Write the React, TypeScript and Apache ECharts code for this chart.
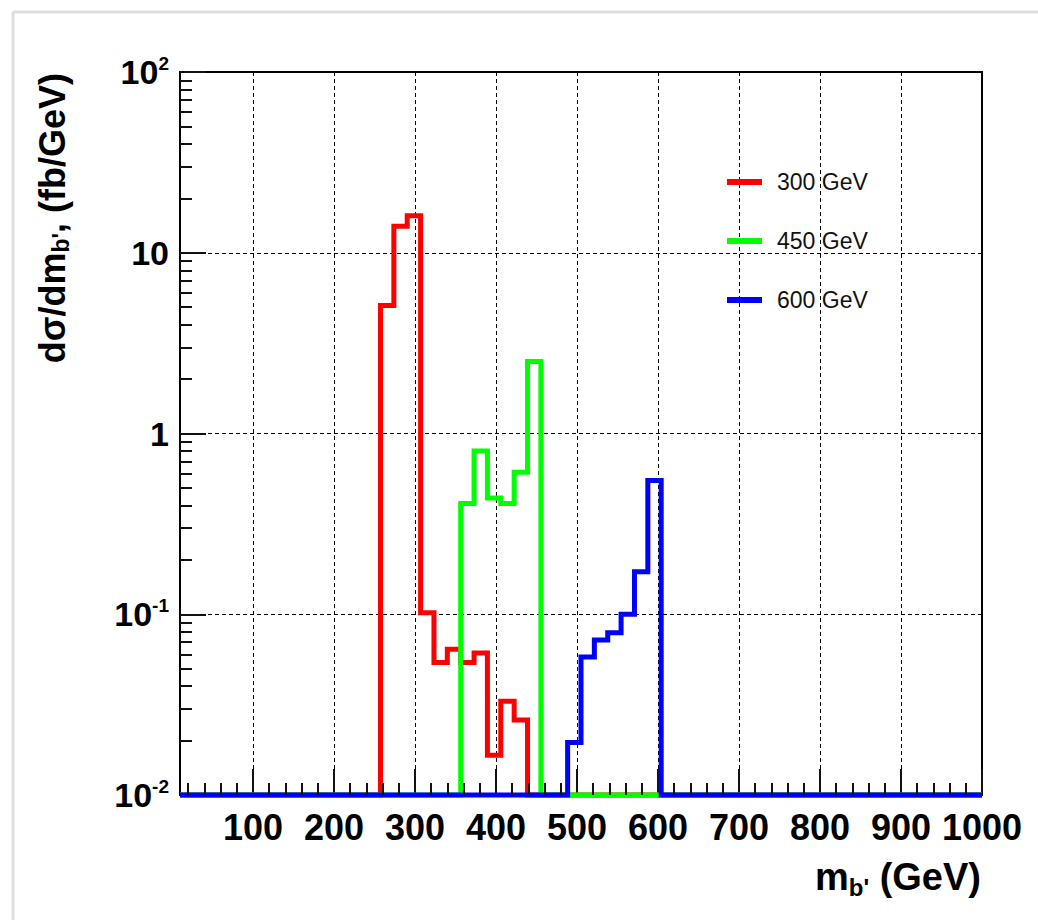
import React, { useEffect, useRef } from 'react';
import * as echarts from 'echarts';

// Histogram binning: 60 equal bins spanning the mass axis 10–1000 GeV
const BIN_LOW = 10;
const BIN_WIDTH = 16.5;
const N_BINS = 60;
// Empty bins are drawn on the floor of the log axis
const EMPTY_LEVEL = 0.01;

const seriesNames = ['300 GeV', '450 GeV', '600 GeV'];
const seriesColors = ['#ff0000', '#00ff00', '#0000ff'];

// dσ/dm (fb/GeV) per bin, starting at the given bin index
const red300FirstBin = 15;
const red300Values = [5.1, 14.0, 16.0, 0.102, 0.054, 0.064, 0.054, 0.061, 0.0166, 0.033, 0.026];
const green450FirstBin = 21;
const green450Values = [0.41, 0.8, 0.44, 0.41, 0.61, 2.5];
const blue600FirstBin = 29;
const blue600Values = [0.0195, 0.058, 0.072, 0.079, 0.1, 0.172, 0.55];

const xTickValues = [100, 200, 300, 400, 500, 600, 700, 800, 900, 1000];
const yTickValues = [0.01, 0.1, 1, 10, 100];
const yTickTexts = ['{n|10}{sup|-2}', '{n|10}{sup|-1}', '{n|1}', '{n|10}', '{n|10}{sup|2}'];

const FONT = '"Liberation Sans", Arial, Helvetica, sans-serif';

// minor ticks every 20 GeV between the labelled ones
const xMinorTickValues: number[] = [];
for (let v = 20; v < 1000; v += 20) if (v % 100 !== 0) xMinorTickValues.push(v);

// minor ticks at 2..9 within each decade
const yMinorTickValues: number[] = [];
[0.01, 0.1, 1, 10].forEach((d) => {
  for (let m = 2; m <= 9; m++) yMinorTickValues.push(Number((d * m).toPrecision(3)));
});

function histogramOutline(firstBin: number, values: number[]): number[][] {
  const pts: number[][] = [];
  for (let k = 0; k < N_BINS; k++) {
    const i = k - firstBin;
    const v = i >= 0 && i < values.length ? values[i] : EMPTY_LEVEL;
    const lo = BIN_LOW + k * BIN_WIDTH;
    pts.push([lo, v], [lo + BIN_WIDTH, v]);
  }
  return pts;
}

const tickLine = { color: '#111', width: 2 };

export default function App() {
  const ref = useRef<HTMLDivElement>(null);

  useEffect(() => {
    if (!ref.current) return;
    const chart = echarts.init(ref.current, undefined, { renderer: 'svg' });

    const outlines = [
      histogramOutline(red300FirstBin, red300Values),
      histogramOutline(green450FirstBin, green450Values),
      histogramOutline(blue600FirstBin, blue600Values),
    ];

    chart.setOption({
      animation: false,
      backgroundColor: '#ffffff',
      grid: {
        left: 180,
        top: 72,
        width: 802,
        height: 723,
        show: true,
        borderColor: '#000',
        borderWidth: 2,
        backgroundColor: 'transparent',
      },
      legend: {
        show: true,
        orient: 'vertical',
        left: 722,
        top: 164,
        icon: 'rect',
        itemWidth: 35,
        itemHeight: 6,
        itemGap: 33,
        selectedMode: false,
        data: seriesNames,
        textStyle: {
          fontFamily: FONT,
          fontSize: 23,
          color: '#111',
          lineHeight: 26,
          padding: [0, 0, 0, 10],
        },
      },
      xAxis: [
        {
          type: 'value',
          min: 10,
          max: 1000,
          position: 'bottom',
          axisLine: { show: true, onZero: false, lineStyle: { color: '#000', width: 2 } },
          axisTick: { show: true, inside: true, length: 26, customValues: xTickValues, lineStyle: tickLine },
          axisLabel: {
            show: true,
            customValues: xTickValues,
            formatter: (v: number) => String(v),
            fontFamily: FONT,
            fontSize: 36,
            fontWeight: 'bold',
            color: '#000',
            margin: 14,
          },
          splitLine: { show: true, lineStyle: { color: '#000', width: 1, type: [4, 3] } },
        },
        {
          type: 'value',
          min: 10,
          max: 1000,
          position: 'bottom',
          offset: 0,
          z: 10,
          axisLine: { show: true, onZero: false, lineStyle: { color: 'rgba(0,0,0,0)', width: 1 } },
          axisTick: { show: true, inside: true, length: 12, customValues: xMinorTickValues, lineStyle: tickLine },
          axisLabel: { show: false, customValues: xMinorTickValues },
          splitLine: { show: false },
        },
      ],
      yAxis: [
        {
          type: 'log',
          logBase: 10,
          min: 0.01,
          max: 100,
          position: 'left',
          axisLine: { show: true, onZero: false, lineStyle: { color: '#000', width: 2 } },
          axisTick: { show: true, inside: true, length: 26, customValues: yTickValues, lineStyle: tickLine },
          axisLabel: {
            show: true,
            customValues: yTickValues,
            margin: 11,
            color: '#000',
            formatter: (v: number) => {
              const idx = yTickValues.findIndex((t) => Math.abs(Math.log10(t) - Math.log10(v)) < 1e-6);
              return idx >= 0 ? yTickTexts[idx] : '';
            },
            rich: {
              n: { fontFamily: FONT, fontSize: 34, fontWeight: 'bold', color: '#000', verticalAlign: 'middle' },
              sup: {
                fontFamily: FONT,
                fontSize: 19,
                fontWeight: 'bold',
                color: '#000',
                verticalAlign: 'middle',
                padding: [0, 0, 18, 0],
              },
            },
          },
          splitLine: { show: true, lineStyle: { color: '#000', width: 1, type: [4, 3] } },
        },
        {
          type: 'log',
          logBase: 10,
          min: 0.01,
          max: 100,
          position: 'left',
          axisLine: { show: false, onZero: false },
          axisTick: { show: true, inside: true, length: 12, customValues: yMinorTickValues, lineStyle: tickLine },
          axisLabel: { show: false },
          splitLine: { show: false },
        },
      ],
      series: outlines.map((data, i) => ({
        name: seriesNames[i],
        type: 'line',
        xAxisIndex: 0,
        yAxisIndex: 0,
        data,
        color: seriesColors[i],
        showSymbol: false,
        symbol: 'none',
        clip: false,
        silent: true,
        z: 3 + i,
        lineStyle: { color: seriesColors[i], width: 5, cap: 'butt', join: 'miter' },
        emphasis: { disabled: true },
      })),
      graphic: [
        // light panel edge along the top and left
        {
          type: 'line',
          shape: { x1: 13, y1: 12, x2: 1038, y2: 12 },
          style: { stroke: '#dedede', lineWidth: 3 },
        },
        {
          type: 'line',
          shape: { x1: 13, y1: 12, x2: 13, y2: 920 },
          style: { stroke: '#dedede', lineWidth: 3 },
        },
        // y-axis title
        {
          type: 'text',
          x: 52,
          y: 73,
          rotation: Math.PI / 2,
          style: {
            text: "{t|dσ/dm}{sub|b'}{t|, (fb/GeV)}",
            align: 'right',
            verticalAlign: 'middle',
            rich: {
              t: { fontFamily: FONT, fontSize: 36, fontWeight: 'bold', fill: '#000', verticalAlign: 'middle' },
              sub: {
                fontFamily: FONT,
                fontSize: 23,
                fontWeight: 'bold',
                fill: '#000',
                verticalAlign: 'middle',
                padding: [18, 0, 0, 0],
              },
            },
          },
        },
        // x-axis title
        {
          type: 'text',
          x: 981,
          y: 877,
          style: {
            text: "{t|m}{sub|b'}{t| (GeV)}",
            align: 'right',
            verticalAlign: 'middle',
            rich: {
              t: { fontFamily: FONT, fontSize: 38, fontWeight: 'bold', fill: '#000', verticalAlign: 'middle' },
              sub: {
                fontFamily: FONT,
                fontSize: 24,
                fontWeight: 'bold',
                fill: '#000',
                verticalAlign: 'middle',
                padding: [20, 0, 0, 0],
              },
            },
          },
        },
      ],
    });

    return () => chart.dispose();
  }, []);

  return (
    <div
      ref={ref}
      style={{ position: 'absolute', left: 0, top: 0, width: 1038, height: 920, background: '#fff' }}
    />
  );
}
